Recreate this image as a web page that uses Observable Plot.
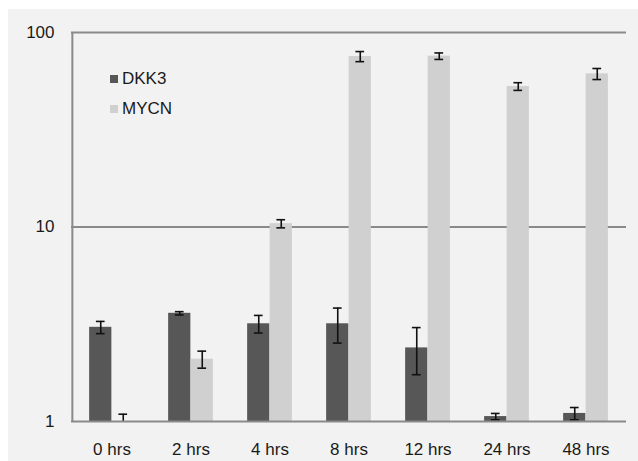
<!DOCTYPE html>
<html>
<head>
<meta charset="utf-8">
<script src="https://cdn.jsdelivr.net/npm/d3@7"></script>
<script src="https://cdn.jsdelivr.net/npm/@observablehq/plot@0.6"></script>
<style>
  html, body { margin: 0; padding: 0; background: #ffffff; }
  #wrap { position: absolute; left: 8px; top: 9px; width: 630px; height: 452px; background: #f2f2f2; }
  #chart { position: absolute; left: 0; top: 0; }
  .legend { position: absolute; left: 102px; top: 55px; font-family: "Liberation Sans", Arial, sans-serif; font-size: 17px; color: #1a1a1a; }
  .legend .item { display: flex; align-items: center; height: 30px; }
  .legend .sw { width: 8px; height: 8px; margin-right: 4px; }
</style>
</head>
<body>
<div id="wrap">
  <div id="chart"></div>
  <div class="legend" id="legend"></div>
</div>
<script>
const times = ["0 hrs", "2 hrs", "4 hrs", "8 hrs", "12 hrs", "24 hrs", "48 hrs"];
const series = ["DKK3", "MYCN"];
const dkk3 = [3.05, 3.6, 3.18, 3.18, 2.39, 1.06, 1.10];
const dkk3Err = [0.22, 0.07, 0.33, 0.65, 0.65, 0.04, 0.08];
const mycn = [1.0, 2.09, 10.4, 75.3, 75.6, 52.8, 61.3];
const mycnErr = [0.09, 0.21, 0.5, 4.5, 2.9, 2.4, 4.0];
const yTicks = [1, 10, 100];
const gridValues = [10, 100];

const colors = {DKK3: "#575757", MYCN: "#d0d0d0"};

const W = 630, H = 452;
const mL = 63, mR = 12, mT = 23, mB = 40;
const band = (W - mL - mR) / times.length;
const half = band / 2;
const barW = 22.5;
const groupPad = half - barW;
const capHalf = 4.5;

const rows = [];
times.forEach((t, i) => {
  rows.push({time: t, gene: "DKK3", value: dkk3[i], err: dkk3Err[i]});
  rows.push({time: t, gene: "MYCN", value: mycn[i], err: mycnErr[i]});
});
const dk = rows.filter(d => d.gene === "DKK3");
const my = rows.filter(d => d.gene === "MYCN");

function errMarks(data, offset) {
  return [
    Plot.ruleX(data, {x: "time", y1: d => d.value - d.err, y2: d => d.value + d.err, dx: offset, stroke: "#111", strokeWidth: 1.6, clip: true}),
    Plot.tickY(data, {x: "time", y: d => d.value + d.err, dx: offset, insetLeft: half - capHalf, insetRight: half - capHalf, stroke: "#111", strokeWidth: 1.6, clip: true}),
    Plot.tickY(data, {x: "time", y: d => d.value - d.err, dx: offset, insetLeft: half - capHalf, insetRight: half - capHalf, stroke: "#111", strokeWidth: 1.6, clip: true})
  ];
}

const chart = Plot.plot({
  width: W,
  height: H,
  marginLeft: mL,
  marginRight: mR,
  marginTop: mT,
  marginBottom: mB,
  style: {background: "transparent", fontFamily: "'Liberation Sans', Arial, sans-serif", fontSize: "17px", color: "#1a1a1a"},
  x: {type: "band", domain: times, padding: 0, label: null},
  y: {type: "log", domain: [1, 100], label: null},
  marks: [
    Plot.ruleY(gridValues, {stroke: "#8a8a8a", strokeWidth: 2}),
    Plot.barY(dk, {x: "time", y1: 1, y2: "value", fill: colors.DKK3, insetLeft: groupPad, insetRight: half}),
    Plot.barY(my, {x: "time", y1: 1, y2: "value", fill: colors.MYCN, insetLeft: half, insetRight: groupPad}),
    ...errMarks(dk, -barW / 2),
    ...errMarks(my, barW / 2),
    Plot.ruleY([1], {stroke: "#8a8a8a", strokeWidth: 2}),
    Plot.ruleX([times[0]], {x: d => d, y1: 1, y2: 100, dx: -half, stroke: "#8a8a8a", strokeWidth: 2}),
    Plot.axisX({tickSize: 0, tickPadding: 21, fontSize: 17, label: null}),
    Plot.axisY({ticks: yTicks, tickSize: 0, tickPadding: 17, fontSize: 17, tickFormat: d => String(d), label: null})
  ]
});
document.getElementById("chart").appendChild(chart);

const legend = document.getElementById("legend");
series.forEach(s => {
  const item = document.createElement("div");
  item.className = "item";
  const sw = document.createElement("span");
  sw.className = "sw";
  sw.style.background = colors[s];
  const tx = document.createElement("span");
  tx.textContent = s;
  item.appendChild(sw);
  item.appendChild(tx);
  legend.appendChild(item);
});
</script>
</body>
</html>
